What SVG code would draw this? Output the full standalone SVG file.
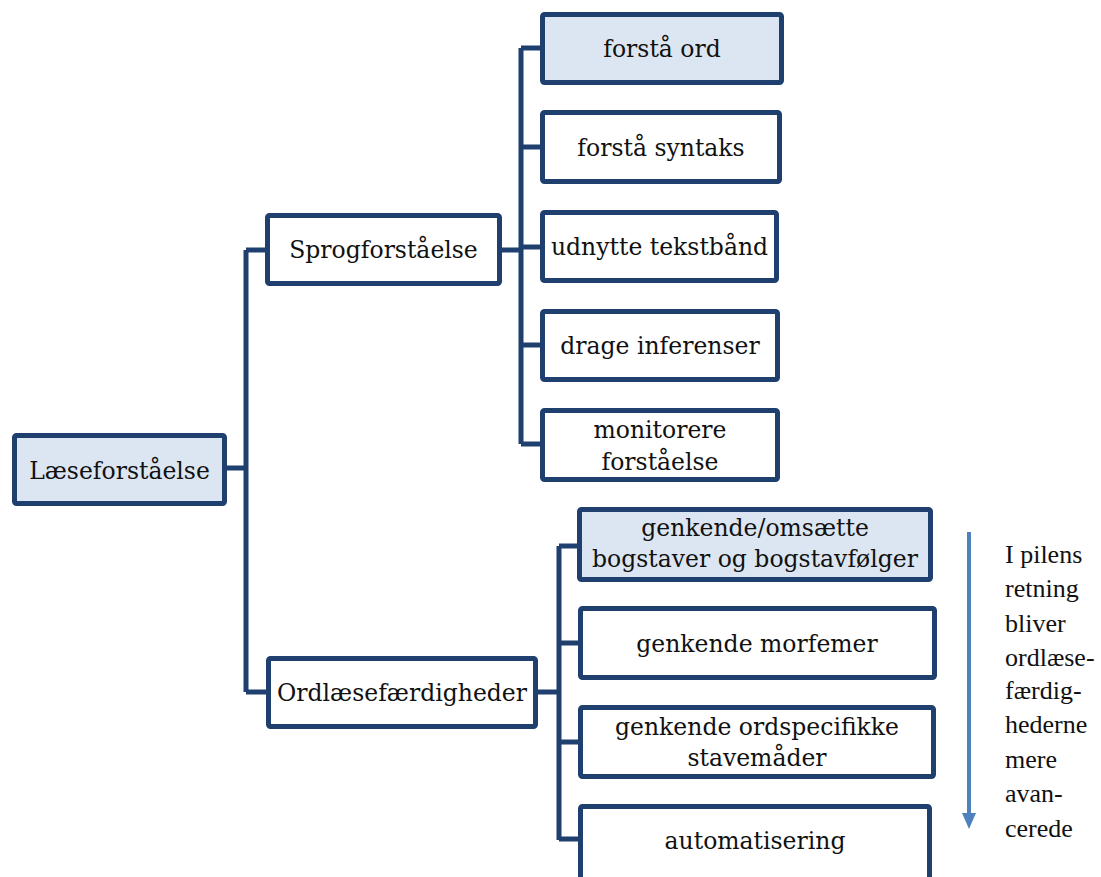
<svg xmlns="http://www.w3.org/2000/svg" width="1101" height="877" viewBox="0 0 1101 877">
<style>
.box{fill:#FFFFFF;stroke:#1F3F6E;stroke-width:5}
.hl{fill:#DCE6F2}
.t{font-family:"DejaVu Serif","Liberation Serif",serif;font-size:23.5px;fill:#111;text-anchor:middle}
.c{fill:none;stroke:#1F3F6E;stroke-width:5;stroke-linejoin:miter}
.n{font-family:"Liberation Serif","Times New Roman",serif;font-size:26px;fill:#111}
</style>
<rect width="1101" height="877" fill="#FFFFFF"/>
<g id="connectors">
<path class="c" d="M227,468 H246 M246,250 V692 M246,250 H266 M246,692 H267"/>
<path class="c" d="M502,250 H521 M521,48 V444 M521,48 H541 M521,147 H541 M521,247 H541 M521,345 H541 M521,444 H541"/>
<path class="c" d="M538,692 H559 M559,546 V840 M559,546 H578 M559,643 H579 M559,742 H579 M559,839 H579"/>
</g>
<g id="n-laeseforstaaelse"><rect class="box hl" x="14.5" y="435.5" width="210" height="68" rx="2"/><text class="t" x="119.5" y="478.5">Læseforståelse</text></g>
<g id="n-sprogforstaaelse"><rect class="box" x="267.5" y="215.5" width="232" height="68" rx="2"/><text class="t" x="383.5" y="258">Sprogforståelse</text></g>
<g id="n-ordlaesefaerdigheder"><rect class="box" x="268.5" y="658.5" width="267" height="68" rx="2"/><text class="t" x="402" y="701">Ordlæsefærdigheder</text></g>
<g id="n-forstaa-ord"><rect class="box hl" x="542.5" y="14.5" width="239" height="68" rx="2"/><text class="t" x="662" y="57">forstå ord</text></g>
<g id="n-forstaa-syntaks"><rect class="box" x="542.5" y="112.5" width="237" height="69" rx="2"/><text class="t" x="661" y="155.5">forstå syntaks</text></g>
<g id="n-udnytte"><rect class="box" x="542.5" y="212.5" width="234" height="68" rx="2"/><text class="t" x="659.5" y="255">udnytte tekstbånd</text></g>
<g id="n-drage"><rect class="box" x="542.5" y="311.5" width="235" height="68" rx="2"/><text class="t" x="660" y="354">drage inferenser</text></g>
<g id="n-monitorere"><rect class="box" x="542.5" y="410.5" width="235" height="69" rx="2"/><text class="t" x="660" y="438">monitorere</text><text class="t" x="660" y="470">forståelse</text></g>
<g id="n-genkende-omsaette"><rect class="box hl" x="579.5" y="509.5" width="351" height="70" rx="2"/><text class="t" x="755" y="536">genkende/omsætte</text><text class="t" x="755" y="567">bogstaver og bogstavfølger</text></g>
<g id="n-morfemer"><rect class="box" x="580.5" y="608.5" width="354" height="69" rx="2"/><text class="t" x="757" y="652">genkende morfemer</text></g>
<g id="n-ordspecifikke"><rect class="box" x="580.5" y="707.5" width="353" height="69" rx="2"/><text class="t" x="757" y="735">genkende ordspecifikke</text><text class="t" x="757" y="766">stavemåder</text></g>
<g id="n-automatisering"><rect class="box" x="580.5" y="806.5" width="349" height="74" rx="2"/><text class="t" x="755" y="849">automatisering</text></g>
<g id="arrow">
<line x1="969" y1="532" x2="969" y2="815" stroke="#4F81BD" stroke-width="4"/>
<polygon points="962,813 976,813 969,829" fill="#4F81BD"/>
</g>
<g id="note">
<text class="n" x="1005" y="563">I pilens</text>
<text class="n" x="1005" y="597">retning</text>
<text class="n" x="1005" y="632">bliver</text>
<text class="n" x="1005" y="666">ordlæse-</text>
<text class="n" x="1005" y="699">færdig-</text>
<text class="n" x="1005" y="733">hederne</text>
<text class="n" x="1005" y="768">mere</text>
<text class="n" x="1005" y="802">avan-</text>
<text class="n" x="1005" y="837">cerede</text>
</g>
</svg>
